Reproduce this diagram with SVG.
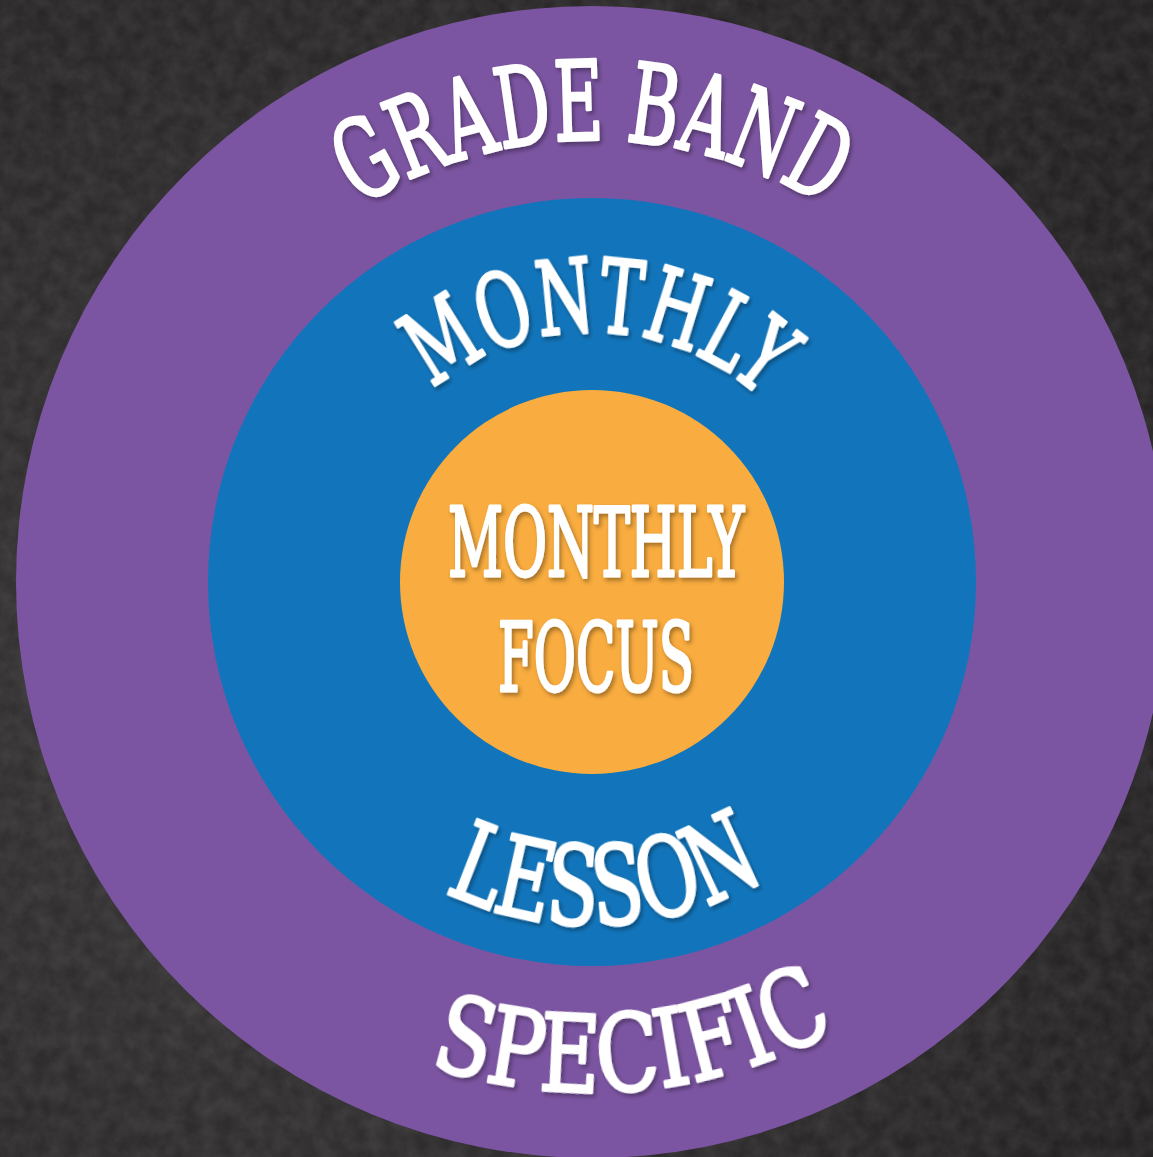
<svg xmlns="http://www.w3.org/2000/svg" width="1153" height="1157" viewBox="0 0 1153 1157">
<style>
.lbl{fill:#ffffff;stroke:#ffffff;stroke-width:3;stroke-linejoin:round;font-family:'DejaVu Serif Condensed','DejaVu Serif','Liberation Serif',serif;font-stretch:condensed;font-weight:normal;filter:url(#sh)}
</style>
<defs>
<filter id="sh" x="-10%" y="-10%" width="130%" height="130%">
<feDropShadow dx="2" dy="3" stdDeviation="2" flood-color="#000" flood-opacity="0.35"/>
</filter>
<filter id="tex" x="0" y="0" width="100%" height="100%">
<feTurbulence type="fractalNoise" baseFrequency="0.06" numOctaves="4" seed="3"/>
<feColorMatrix type="matrix" values="0 0 0 0 0.3  0 0 0 0 0.29  0 0 0 0 0.3  0 0 0 0.6 -0.1"/>
</filter>
<radialGradient id="vig" cx="0.3" cy="0.6" r="0.8">
<stop offset="0" stop-color="#3a3839"/>
<stop offset="1" stop-color="#232122"/>
</radialGradient>
<path id="pGrade" d="M150,582 A442,442 0 0 1 1034,582"/>
<path id="pMonth" d="M342,582 A250,250 0 0 1 842,582"/>
<path id="pLesson" d="M249,582 A343,343 0 0 0 935,582"/>
<path id="pSpec" d="M82,582 A510,510 0 0 0 1102,582"/>
</defs>
<g id="background">
<rect width="1153" height="1157" fill="url(#vig)"/>
<rect width="1153" height="1157" filter="url(#tex)" opacity="0.4"/>
</g>
<g id="ring-grade-band">
<circle cx="592" cy="582" r="576" fill="#7c55a2"/>
</g>
<g id="ring-monthly">
<circle cx="592" cy="582" r="384" fill="#1275bb"/>
</g>
<g id="core-monthly-focus">
<circle cx="592" cy="582" r="192" fill="#f9ac3f"/>
<text class="lbl" x="596" y="576" font-size="96" text-anchor="middle" textLength="296" lengthAdjust="spacingAndGlyphs">MONTHLY</text>
<text class="lbl" x="596" y="691" font-size="96" text-anchor="middle" textLength="196" lengthAdjust="spacingAndGlyphs">FOCUS</text>
</g>
<g id="label-grade-band">
<text class="lbl" font-size="110"><textPath href="#pGrade" startOffset="50%" text-anchor="middle" textLength="490" lengthAdjust="spacingAndGlyphs">GRADE BAND</textPath></text>
</g>
<g id="label-monthly" transform="rotate(1.5 592 582)">
<text class="lbl" font-size="102"><textPath href="#pMonth" startOffset="50%" text-anchor="middle" textLength="358" lengthAdjust="spacingAndGlyphs">MONTHLY</textPath></text>
</g>
<g id="label-lesson" transform="rotate(-2.5 592 582)">
<text class="lbl" font-size="110"><textPath href="#pLesson" startOffset="50%" text-anchor="middle" textLength="335" lengthAdjust="spacingAndGlyphs">LESSON</textPath></text>
</g>
<g id="label-specific" transform="rotate(-5 592 582)">
<text class="lbl" font-size="107"><textPath href="#pSpec" startOffset="50%" text-anchor="middle" textLength="420" lengthAdjust="spacingAndGlyphs">SPECIFIC</textPath></text>
</g>
</svg>
